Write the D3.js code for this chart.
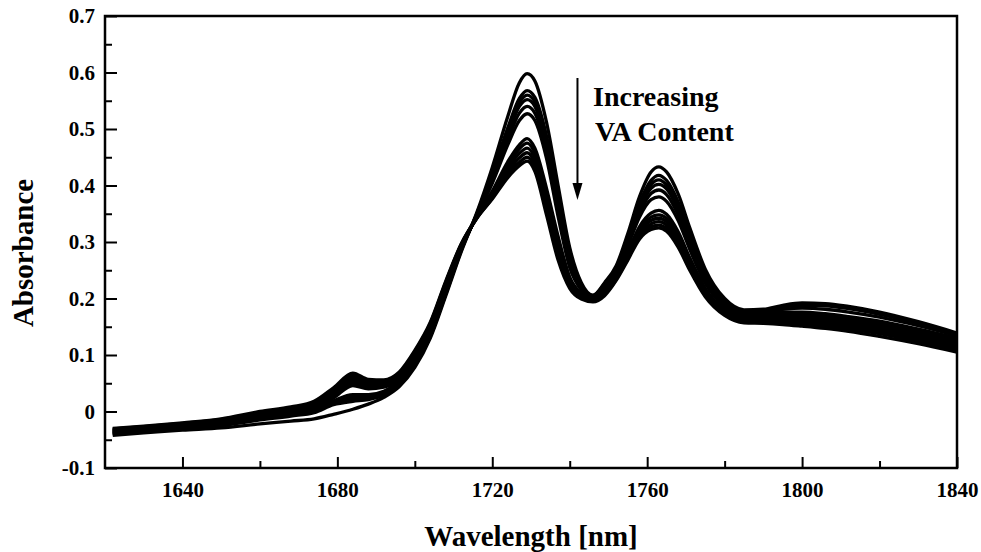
<!DOCTYPE html>
<html>
<head>
<meta charset="utf-8">
<script src="https://cdn.jsdelivr.net/npm/d3@7"></script>
<style>
  html, body { margin: 0; padding: 0; background: #fff; }
  svg { display: block; }
  text { font-family: "Liberation Serif", "Times New Roman", serif; font-weight: bold; fill: #000; }
</style>
</head>
<body>
<svg id="chart"></svg>
<script>
const width = 981;
const height = 552;

// wavelength grid (nm)
const wavelengths = [1622, 1630, 1640, 1650, 1660, 1668, 1674, 1679, 1684, 1688, 1692, 1696, 1700, 1704, 1708, 1712, 1716, 1720, 1724, 1727, 1729, 1731, 1734, 1737, 1740, 1743, 1746, 1749, 1752, 1755, 1758, 1761, 1763, 1765, 1768, 1771, 1775, 1780, 1785, 1790, 1795, 1800, 1806, 1812, 1820, 1830, 1840];

// absorbance spectra, one per sample (highest peak first)
const spectrum1 = [-0.042, -0.038, -0.033, -0.029, -0.022, -0.017, -0.013, -0.005, 0.004, 0.013, 0.025, 0.044, 0.078, 0.130, 0.205, 0.283, 0.352, 0.432, 0.522, 0.582, 0.598, 0.585, 0.512, 0.400, 0.290, 0.228, 0.206, 0.228, 0.258, 0.315, 0.380, 0.424, 0.433, 0.424, 0.385, 0.325, 0.252, 0.200, 0.180, 0.181, 0.188, 0.192, 0.191, 0.186, 0.176, 0.159, 0.139];
const spectrum2 = [-0.040, -0.036, -0.030, -0.025, -0.015, -0.008, -0.002, 0.012, 0.018, 0.021, 0.029, 0.047, 0.081, 0.133, 0.208, 0.285, 0.350, 0.421, 0.502, 0.554, 0.568, 0.556, 0.488, 0.380, 0.277, 0.223, 0.205, 0.226, 0.255, 0.307, 0.368, 0.409, 0.418, 0.409, 0.371, 0.313, 0.244, 0.196, 0.178, 0.179, 0.185, 0.188, 0.187, 0.182, 0.172, 0.156, 0.137];
const spectrum3 = [-0.039, -0.035, -0.029, -0.023, -0.013, -0.006, 0.000, 0.014, 0.022, 0.024, 0.031, 0.049, 0.084, 0.136, 0.211, 0.287, 0.349, 0.418, 0.496, 0.547, 0.560, 0.548, 0.480, 0.372, 0.272, 0.221, 0.204, 0.224, 0.253, 0.304, 0.363, 0.402, 0.410, 0.401, 0.364, 0.307, 0.240, 0.193, 0.176, 0.177, 0.181, 0.183, 0.181, 0.176, 0.167, 0.152, 0.134];
const spectrum4 = [-0.038, -0.034, -0.028, -0.022, -0.012, -0.005, 0.002, 0.016, 0.026, 0.027, 0.033, 0.051, 0.086, 0.138, 0.213, 0.288, 0.348, 0.414, 0.490, 0.540, 0.552, 0.540, 0.472, 0.365, 0.267, 0.219, 0.203, 0.222, 0.251, 0.301, 0.358, 0.395, 0.402, 0.394, 0.357, 0.302, 0.237, 0.191, 0.174, 0.174, 0.176, 0.176, 0.173, 0.168, 0.160, 0.146, 0.130];
const spectrum5 = [-0.037, -0.033, -0.027, -0.021, -0.010, -0.003, 0.004, 0.019, 0.030, 0.030, 0.036, 0.053, 0.089, 0.141, 0.215, 0.289, 0.347, 0.409, 0.481, 0.528, 0.540, 0.528, 0.460, 0.355, 0.261, 0.217, 0.202, 0.220, 0.249, 0.297, 0.351, 0.386, 0.392, 0.384, 0.348, 0.295, 0.232, 0.188, 0.172, 0.172, 0.174, 0.174, 0.171, 0.166, 0.158, 0.144, 0.128];
const spectrum6 = [-0.036, -0.032, -0.026, -0.019, -0.009, -0.002, 0.006, 0.024, 0.046, 0.040, 0.043, 0.057, 0.092, 0.144, 0.218, 0.290, 0.346, 0.404, 0.472, 0.515, 0.527, 0.515, 0.448, 0.345, 0.255, 0.215, 0.201, 0.218, 0.247, 0.293, 0.344, 0.375, 0.380, 0.372, 0.338, 0.287, 0.227, 0.185, 0.170, 0.170, 0.172, 0.171, 0.168, 0.163, 0.155, 0.141, 0.125];
const spectrum7 = [-0.035, -0.031, -0.025, -0.018, -0.008, 0.000, 0.008, 0.027, 0.050, 0.043, 0.046, 0.060, 0.095, 0.147, 0.221, 0.292, 0.345, 0.390, 0.442, 0.472, 0.483, 0.466, 0.395, 0.310, 0.238, 0.209, 0.199, 0.215, 0.242, 0.283, 0.327, 0.351, 0.356, 0.349, 0.318, 0.272, 0.218, 0.180, 0.167, 0.167, 0.169, 0.168, 0.165, 0.160, 0.152, 0.138, 0.122];
const spectrum8 = [-0.034, -0.030, -0.024, -0.017, -0.006, 0.001, 0.010, 0.030, 0.054, 0.046, 0.048, 0.062, 0.098, 0.150, 0.223, 0.293, 0.344, 0.387, 0.436, 0.465, 0.475, 0.458, 0.385, 0.302, 0.234, 0.207, 0.198, 0.213, 0.240, 0.280, 0.322, 0.344, 0.348, 0.342, 0.312, 0.267, 0.215, 0.178, 0.165, 0.165, 0.166, 0.165, 0.162, 0.157, 0.149, 0.135, 0.119];
const spectrum9 = [-0.033, -0.029, -0.023, -0.016, -0.005, 0.003, 0.012, 0.033, 0.058, 0.049, 0.050, 0.064, 0.101, 0.152, 0.225, 0.294, 0.343, 0.384, 0.430, 0.457, 0.466, 0.449, 0.375, 0.293, 0.230, 0.205, 0.197, 0.211, 0.238, 0.277, 0.318, 0.338, 0.342, 0.336, 0.306, 0.262, 0.212, 0.176, 0.163, 0.163, 0.163, 0.162, 0.159, 0.154, 0.146, 0.132, 0.116];
const spectrum10 = [-0.032, -0.028, -0.022, -0.015, -0.004, 0.004, 0.014, 0.036, 0.062, 0.052, 0.052, 0.066, 0.104, 0.154, 0.227, 0.295, 0.343, 0.381, 0.424, 0.449, 0.458, 0.440, 0.366, 0.284, 0.226, 0.203, 0.196, 0.209, 0.236, 0.274, 0.313, 0.332, 0.336, 0.330, 0.301, 0.258, 0.209, 0.174, 0.161, 0.160, 0.160, 0.158, 0.155, 0.150, 0.142, 0.128, 0.113];
const spectrum11 = [-0.031, -0.027, -0.021, -0.014, -0.002, 0.006, 0.016, 0.039, 0.065, 0.054, 0.054, 0.068, 0.106, 0.156, 0.229, 0.296, 0.342, 0.378, 0.419, 0.441, 0.450, 0.432, 0.357, 0.276, 0.222, 0.201, 0.195, 0.207, 0.234, 0.271, 0.309, 0.327, 0.330, 0.324, 0.296, 0.254, 0.206, 0.172, 0.159, 0.158, 0.157, 0.154, 0.151, 0.146, 0.138, 0.124, 0.109];
const spectrum12 = [-0.030, -0.026, -0.020, -0.013, 0.000, 0.008, 0.018, 0.042, 0.068, 0.057, 0.056, 0.070, 0.108, 0.158, 0.231, 0.297, 0.342, 0.376, 0.414, 0.435, 0.443, 0.425, 0.348, 0.268, 0.218, 0.199, 0.194, 0.205, 0.232, 0.268, 0.305, 0.322, 0.325, 0.319, 0.291, 0.250, 0.203, 0.170, 0.157, 0.156, 0.154, 0.151, 0.147, 0.142, 0.133, 0.120, 0.105];

const spectra = [spectrum1, spectrum2, spectrum3, spectrum4, spectrum5, spectrum6,
  spectrum7, spectrum8, spectrum9, spectrum10, spectrum11, spectrum12];

// axis ticks
const yTicks = [-0.1, 0, 0.1, 0.2, 0.3, 0.4, 0.5, 0.6, 0.7];
const yTickLabels = ["-0.1", "0", "0.1", "0.2", "0.3", "0.4", "0.5", "0.6", "0.7"];
const yMinorTicks = [-0.05, 0.05, 0.15, 0.25, 0.35, 0.45, 0.55, 0.65];
const xTicks = [1640, 1680, 1720, 1760, 1800, 1840];
const xTickLabels = ["1640", "1680", "1720", "1760", "1800", "1840"];
const xMinorTicks = [1660, 1700, 1740, 1780, 1820];

const margin = { left: 105, right: 24, top: 16, bottom: 84 };

const svg = d3.select("#chart")
  .attr("width", width)
  .attr("height", height);

const x = d3.scaleLinear()
  .domain([1620, 1840])
  .range([margin.left, width - margin.right]);

const y = d3.scaleLinear()
  .domain([-0.1, 0.7])
  .range([height - margin.bottom, margin.top]);

// spectra
const line = d3.line()
  .x((d, i) => x(wavelengths[i]))
  .y(d => y(d))
  .curve(d3.curveMonotoneX);

svg.append("g")
  .selectAll("path")
  .data(spectra)
  .join("path")
  .attr("d", line)
  .attr("fill", "none")
  .attr("stroke", "#000")
  .attr("stroke-width", 3.3);

// axes (ticks point inward)
svg.append("g")
  .attr("transform", `translate(${margin.left},0)`)
  .call(d3.axisLeft(y)
    .tickValues(yTicks)
    .tickFormat((d, i) => yTickLabels[i])
    .tickSize(-12)
    .tickPadding(10));

svg.append("g")
  .attr("transform", `translate(${margin.left},0)`)
  .call(d3.axisLeft(y).tickValues(yMinorTicks).tickFormat("").tickSize(-7));

svg.append("g")
  .attr("transform", `translate(0,${height - margin.bottom})`)
  .call(d3.axisBottom(x)
    .tickValues(xTicks)
    .tickFormat((d, i) => xTickLabels[i])
    .tickSize(-11)
    .tickPadding(14));

svg.append("g")
  .attr("transform", `translate(0,${height - margin.bottom})`)
  .call(d3.axisBottom(x).tickValues(xMinorTicks).tickFormat("").tickSize(-7));

svg.selectAll(".domain").remove();
svg.selectAll(".tick line").attr("stroke", "#000").attr("stroke-width", 2);
svg.selectAll(".tick text")
  .style("font-size", "21px")
  .style("font-family", "'Liberation Serif', serif")
  .style("font-weight", "bold");

// frame
svg.append("rect")
  .attr("x", margin.left)
  .attr("y", margin.top)
  .attr("width", width - margin.left - margin.right)
  .attr("height", height - margin.top - margin.bottom)
  .attr("fill", "none")
  .attr("stroke", "#000")
  .attr("stroke-width", 2.5);

// axis titles
svg.append("text")
  .attr("x", (margin.left + width - margin.right) / 2)
  .attr("y", 546)
  .attr("text-anchor", "middle")
  .style("font-size", "29px")
  .text("Wavelength [nm]");

svg.append("text")
  .attr("transform", "translate(33,253) rotate(-90)")
  .attr("text-anchor", "middle")
  .style("font-size", "29px")
  .text("Absorbance");

// annotation arrow
svg.append("line")
  .attr("x1", x(1742)).attr("x2", x(1742))
  .attr("y1", 78).attr("y2", 186)
  .attr("stroke", "#000")
  .attr("stroke-width", 2);

svg.append("path")
  .attr("d", `M${x(1742) - 5},183 L${x(1742) + 5},183 L${x(1742)},200 Z`)
  .attr("fill", "#000");

svg.append("text")
  .attr("x", 593)
  .attr("y", 106)
  .style("font-size", "28px")
  .text("Increasing");

svg.append("text")
  .attr("x", 595)
  .attr("y", 141)
  .style("font-size", "28px")
  .text("VA Content");
</script>
</body>
</html>
